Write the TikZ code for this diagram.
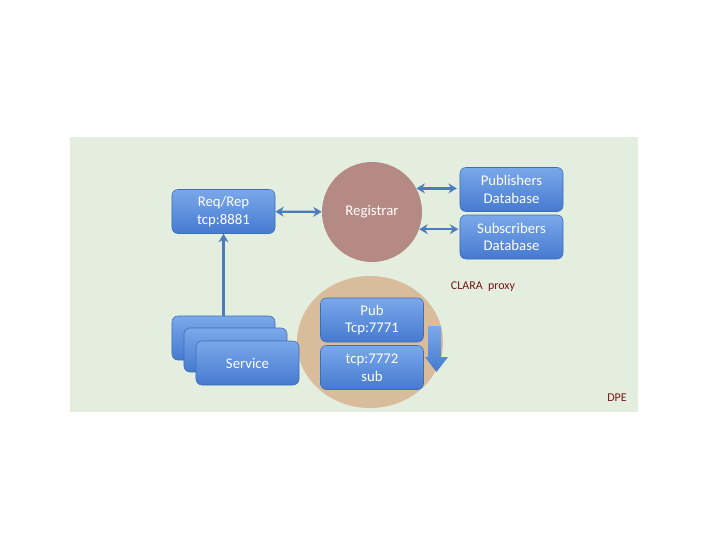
\documentclass[tikz,border=0pt]{standalone}
\usepackage{fontspec}
\setmainfont{Carlito}
\usetikzlibrary{arrows.meta, shapes.geometric}

\definecolor{dpegreen}{RGB}{227,238,223}
\definecolor{boxtop}{RGB}{122,168,234}
\definecolor{boxbot}{RGB}{70,122,208}
\definecolor{boxline}{RGB}{64,110,182}
\definecolor{regcol}{RGB}{181,138,132}
\definecolor{proxycol}{RGB}{217,188,155}
\definecolor{linkcol}{RGB}{76,124,190}
\definecolor{labelred}{RGB}{120,20,20}

\tikzset{
  roundbox/.style={draw=boxline, rounded corners=0.15cm, top color=boxtop, bottom color=boxbot,
    minimum width=2.575cm, minimum height=1.1cm, text=white, align=center,
    font=\fontsize{10.5}{12.5}\selectfont},
  link/.style={draw=linkcol, line width=1.7pt, {Stealth[length=6pt,width=7pt]}-{Stealth[length=6pt,width=7pt]}},
  uplink/.style={draw=linkcol, line width=1.7pt, -{Stealth[length=6pt,width=7pt]}},
  tag/.style={text=labelred, font=\fontsize{8.5}{10}\selectfont}
}

\begin{document}
\begin{tikzpicture}[x=0.025cm, y=-0.025cm]
\useasboundingbox (0,0) rectangle (720,540);
% DPE area
\fill[dpegreen] (70,137) rectangle (638,412);
\node[tag] (dpe) at (617,398) {DPE};

% registrar and databases
\node[circle, fill=regcol, minimum size=2.5cm, text=white,
  font=\fontsize{10.5}{12.5}\selectfont] (registrar) at (372,212) {Registrar};
\node[roundbox] (reqrep) at (223.5,211.5) {Req/Rep\\tcp:8881};
\node[roundbox] (pubdb) at (511.5,189.5) {Publishers\\Database};
\node[roundbox] (subdb) at (511.5,237) {Subscribers\\Database};
\draw[link] (reqrep) -- (registrar);
\draw[link, shorten >=2pt] (registrar.28) -- (pubdb.west |- registrar.28);
\draw[link, shorten >=1pt] (registrar.-20) -- (subdb.west |- registrar.-20);

% proxy
\node[ellipse, fill=proxycol, minimum width=3.65cm, minimum height=3.3cm] (proxy) at (370,342) {};
\node[tag] (proxylabel) at (483,287) {CLARA\ \ proxy};
\node[roundbox] (pub) at (372,320) {Pub\\Tcp:7771};
\node[roundbox] (sub) at (372,367.5) {tcp:7772\\sub};
\shade[top color=boxtop, bottom color=boxbot]
  (428,326) -- (441,326) -- (441,357) -- (448,357) -- (436.5,372) -- (425,357) -- (428,357) -- cycle;

% services
\node[roundbox] (svca) at (223.5,338) {};
\node[roundbox] (svcb) at (235.5,350) {};
\node[roundbox] (svcc) at (247.5,363) {Service};
\draw[uplink] (svca.north) -- (reqrep.south);
\end{tikzpicture}
\end{document}
